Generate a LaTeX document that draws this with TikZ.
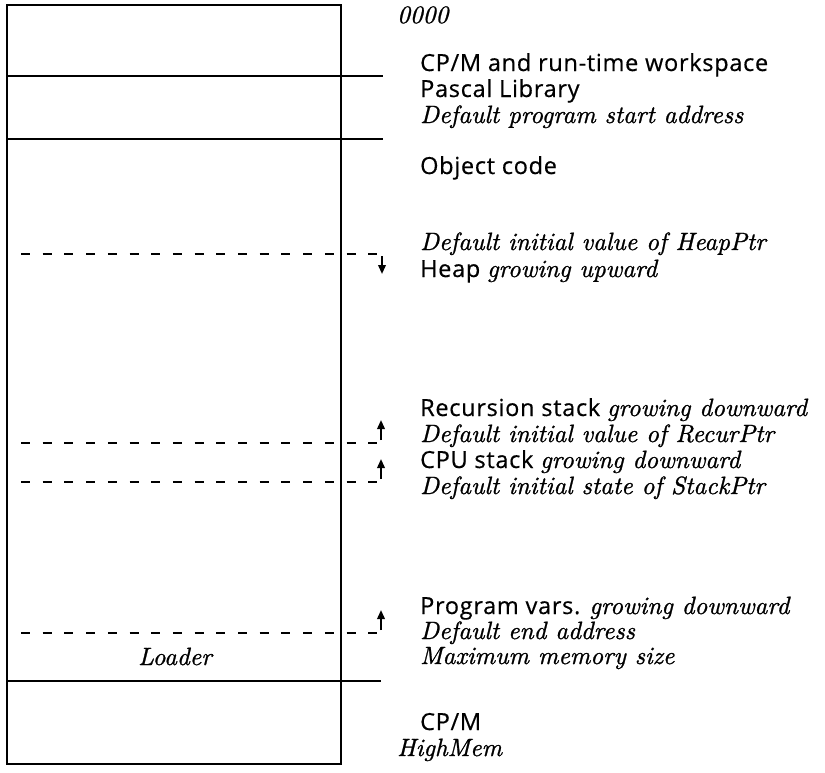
\documentclass[tikz,border=0pt]{standalone}
\usepackage{fontspec}
\newfontfamily\sansf[LetterSpace=3,FakeBold=0.5]{Open Sans}
\newfontface\itf[FakeBold=1]{lmroman10-italic.otf}
\usetikzlibrary{arrows.meta}
\newcommand\itx[1]{{\itf\fontsize{25}{29}\selectfont #1}}
\begin{document}
\begin{tikzpicture}[x=1pt,y=-1pt,
  frame/.style={line width=2.6pt},
  sep/.style={line width=2.4pt},
  dashsep/.style={line width=2.8pt, dash pattern=on 9pt off 12.7pt},
  ptr/.style={line width=2pt,-{Triangle[length=9pt,width=7.5pt]}},
  lbl/.style={anchor=base west, inner sep=0pt, font=\sansf\fontsize{23.5}{28}\selectfont},
]
\useasboundingbox (0,0) rectangle (825,772);
% memory column
\draw[frame] (7,5) rectangle (341,764);
\coordinate (s1a) at (7,76);  \coordinate (s1b) at (383,76);
\coordinate (s2a) at (7,139); \coordinate (s2b) at (383,139);
\coordinate (s3a) at (7,681); \coordinate (s3b) at (381,681);
\draw[sep] (s1a) -- (s1b);
\draw[sep] (s2a) -- (s2b);
\draw[sep] (s3a) -- (s3b);
% dashed pointer lines
\coordinate (d1a) at (21,254); \coordinate (d1b) at (377,254);
\coordinate (d2a) at (21,443); \coordinate (d2b) at (377,443);
\coordinate (d3a) at (21,482); \coordinate (d3b) at (377,482);
\coordinate (d4a) at (21,633); \coordinate (d4b) at (377,633);
\draw[dashsep] (d1a) -- (d1b);
\draw[dashsep] (d2a) -- (d2b);
\draw[dashsep] (d3a) -- (d3b);
\draw[dashsep] (d4a) -- (d4b);
% arrows
\coordinate (a1s) at (382,256); \coordinate (a1e) at (382,274);
\coordinate (a2s) at (381,440); \coordinate (a2e) at (381,420);
\coordinate (a3s) at (381,479); \coordinate (a3e) at (381,459);
\coordinate (a4s) at (381,630); \coordinate (a4e) at (381,610);
\draw[ptr] (a1s) -- (a1e);
\draw[ptr] (a2s) -- (a2e);
\draw[ptr] (a3s) -- (a3e);
\draw[ptr] (a4s) -- (a4e);
% labels
\node[lbl] (t0) at (397,23) {\itx{0000}};
\node[lbl] (t1) at (420,71) {CP/M and run-time workspace};
\node[lbl] (t2) at (420,97) {Pascal Library};
\node[lbl] (t3) at (420,123) {\itx{Default program start address}};
\node[lbl] (t4) at (420,174) {Object code};
\node[lbl] (t5) at (420,250) {\itx{Default initial value of HeapPtr}};
\node[lbl] (t6) at (420,277) {Heap \itx{growing upward}};
\node[lbl] (t7) at (420,416) {Recursion stack \itx{growing downward}};
\node[lbl] (t8) at (420,442) {\itx{Default initial value of RecurPtr}};
\node[lbl] (t9) at (420,468) {CPU stack \itx{growing downward}};
\node[lbl] (t10) at (420,494) {\itx{Default initial state of StackPtr}};
\node[lbl] (t11) at (420,614) {Program vars. \itx{growing downward}};
\node[lbl] (t12) at (420,639) {\itx{Default end address}};
\node[lbl] (t13) at (420,664) {\itx{Maximum memory size}};
\node[lbl,anchor=base] (t14) at (175,665) {\itx{Loader}};
\node[lbl] (t15) at (420,730) {CP/M};
\node[lbl] (t16) at (397,756) {\itx{HighMem}};
\end{tikzpicture}
\end{document}
